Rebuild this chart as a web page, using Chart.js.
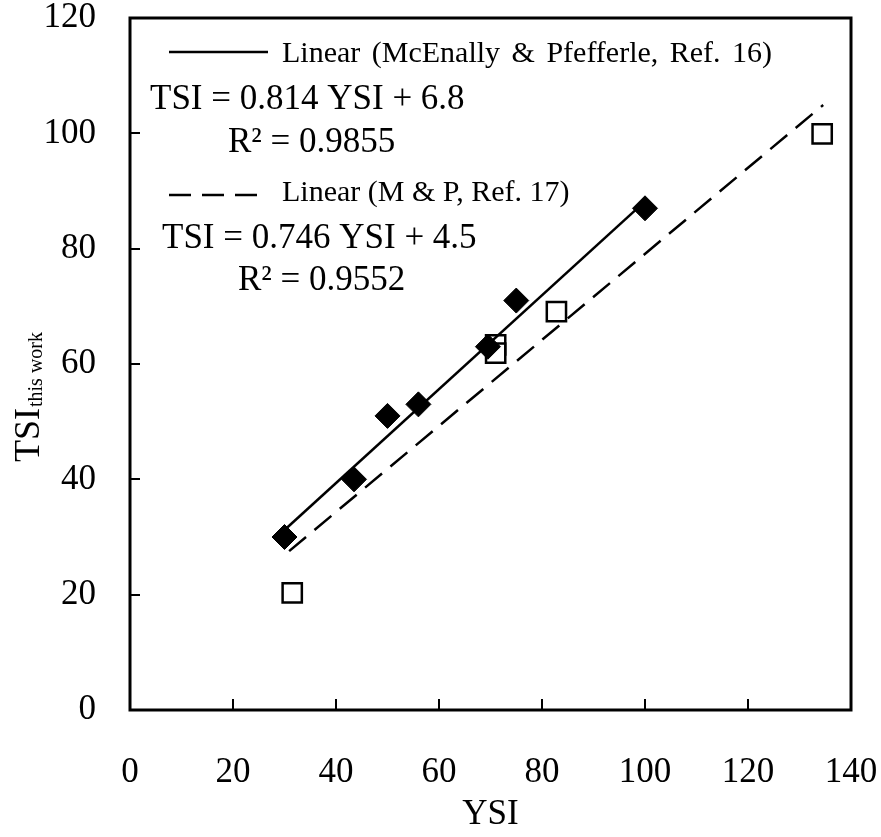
<!DOCTYPE html>
<html>
<head>
<meta charset="utf-8">
<script src="https://cdn.jsdelivr.net/npm/chart.js@4.4.1/dist/chart.umd.min.js"></script>
<style>
html,body{margin:0;padding:0;background:#fff}
#wrap{width:881px;height:837px;position:relative}
</style>
</head>
<body>
<div id="wrap"><canvas id="c"></canvas></div>
<script>
// measured points: this work vs. McEnally & Pfefferle (Ref. 16)
const mpYSI=[30,43.5,50,56,69.5,75,100];
const mpTSI=[30,40,51,53,63,71,87];
// M & P (Ref. 17)
const mp2YSI=[31.5,71,71,82.8,134.4];
const mp2TSI=[20.3,63.3,61.9,69.1,99.9];

// linear fits as given by the equations on the plot
const fit16={slope:0.814,icpt:6.8,r2:'0.9855',from:30,to:100,label:'Linear (McEnally & Pfefferle, Ref. 16)'};
const fit17={slope:0.746,icpt:4.5,r2:'0.9552',from:30.9,to:134.6,label:'Linear (M & P, Ref. 17)'};

const xTicks=[0,20,40,60,80,100,120,140];
const yTicks=[0,20,40,60,80,100,120];

const SERIF="'Liberation Serif','Times New Roman',serif";
const pts=(xs,ys)=>xs.map((x,i)=>({x,y:ys[i]}));
const fitPts=f=>[f.from,f.to].map(x=>({x,y:f.slope*x+f.icpt}));
// keep the plot box fixed: no extra room for overhanging tick labels
const noPad=s=>{s.paddingTop=s.paddingBottom=s.paddingLeft=s.paddingRight=0;};

// frame, inner tick marks, fit legends and the y title
const decor={
  id:'decor',
  afterDraw(ch){
    const {ctx,chartArea:a,scales:{x,y}}=ch;
    ctx.save();
    ctx.strokeStyle='#000';ctx.lineWidth=3;
    ctx.strokeRect(a.left,a.top,a.right-a.left,a.bottom-a.top);
    ctx.lineWidth=2;ctx.beginPath();
    xTicks.forEach(v=>{const p=Math.round(x.getPixelForValue(v));ctx.moveTo(p,a.bottom);ctx.lineTo(p,a.bottom-11);});
    yTicks.forEach(v=>{const p=Math.round(y.getPixelForValue(v));ctx.moveTo(a.left,p);ctx.lineTo(a.left+10,p);});
    ctx.stroke();

    // fit legend samples
    ctx.lineWidth=2.5;
    ctx.beginPath();ctx.moveTo(169,52);ctx.lineTo(268,52);ctx.stroke();
    ctx.setLineDash([22,11]);
    ctx.beginPath();ctx.moveTo(169,195);ctx.lineTo(258,195);ctx.stroke();
    ctx.setLineDash([]);

    ctx.fillStyle='#000';ctx.textBaseline='alphabetic';ctx.textAlign='left';
    ctx.font='30px '+SERIF;
    ctx.wordSpacing='4px';
    ctx.fillText(fit16.label,282,62);
    ctx.wordSpacing='0px';
    ctx.fillText(fit17.label,282,201);
    ctx.font='35px '+SERIF;
    ctx.fillText(`TSI = ${fit16.slope} YSI + ${fit16.icpt}`,150,109);
    ctx.fillText(`R\u00b2 = ${fit16.r2}`,228,152);
    ctx.fillText(`TSI = ${fit17.slope} YSI + ${fit17.icpt}`,162,248);
    ctx.fillText(`R\u00b2 = ${fit17.r2}`,238,290);

    // y axis title with subscript
    ctx.translate(39,462);ctx.rotate(-Math.PI/2);
    ctx.font='36px '+SERIF;
    ctx.fillText('TSI',0,0);
    const w=ctx.measureText('TSI').width;
    ctx.font='20px '+SERIF;
    ctx.fillText('this work',w+1,3);
    ctx.restore();
  }
};

new Chart(document.getElementById('c'),{
  type:'scatter',
  data:{datasets:[
    {type:'line',data:fitPts(fit16),borderColor:'#000',borderWidth:2.5,pointRadius:0,fill:false},
    {type:'line',data:fitPts(fit17),borderColor:'#000',borderWidth:2.5,borderDash:[22,11],pointRadius:0,fill:false},
    {data:pts(mpYSI,mpTSI),pointStyle:'rectRot',pointRadius:12.5,backgroundColor:'#000',borderColor:'#000',borderWidth:1},
    {data:pts(mp2YSI,mp2TSI),pointStyle:'rect',pointRadius:13.6,backgroundColor:'#fff',borderColor:'#000',borderWidth:2.5},
  ]},
  options:{
    responsive:true,maintainAspectRatio:false,animation:false,
    layout:{autoPadding:false,padding:{top:18,right:30,left:0,bottom:0}},
    plugins:{legend:{display:false},tooltip:{enabled:false}},
    scales:{
      x:{type:'linear',min:0,max:140,
        afterBuildTicks:s=>{s.ticks=xTicks.map(v=>({value:v}));},
        afterFit:s=>{s.height=127;noPad(s);},
        grid:{display:false,drawTicks:false},border:{display:false},
        ticks:{color:'#000',padding:45,font:{family:SERIF,size:35,lineHeight:1}},
        title:{display:true,text:'YSI',color:'#000',font:{family:SERIF,size:35,lineHeight:1.2},padding:{top:0,bottom:1}}},
      y:{type:'linear',min:0,max:120,
        afterBuildTicks:s=>{s.ticks=yTicks.map(v=>({value:v}));},
        afterFit:s=>{s.width=130;noPad(s);},
        grid:{display:false,drawTicks:false},border:{display:false},
        ticks:{color:'#000',padding:34,font:{family:SERIF,size:35,lineHeight:1}}}
    }
  },
  plugins:[decor]
});
</script>
</body>
</html>
